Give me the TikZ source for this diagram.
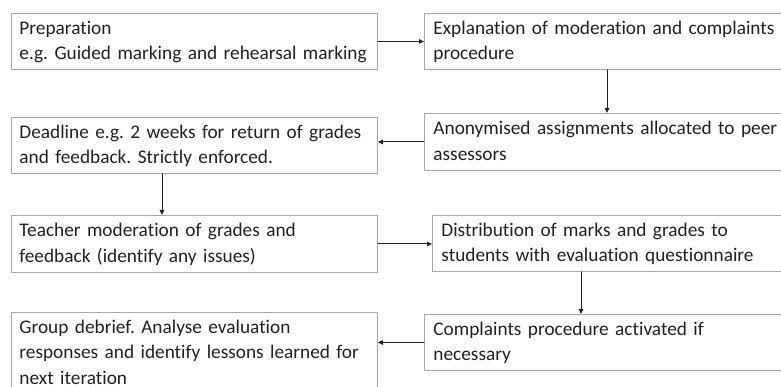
\documentclass[tikz,border=0pt]{standalone}
\usepackage{fontspec}
\setmainfont[Ligatures=NoCommon]{Carlito}
\usepackage{tikz}
\usetikzlibrary{arrows.meta,positioning}
\definecolor{boxgray}{rgb}{0.66,0.66,0.66}
\definecolor{txtgray}{rgb}{0.13,0.13,0.13}
\begin{document}
\frenchspacing
\begin{tikzpicture}[line cap=round,line join=round,x=1pt,y=-1pt,
  stepbox/.style={draw=boxgray,line width=0.9pt,anchor=north west,align=left,
    inner xsep=8pt,inner ysep=3pt,text=txtgray,font=\fontsize{19.3}{25.5}\selectfont,
    execute at begin node={\rule{0pt}{18pt}},
    execute at end node={\rule[-6.5pt]{0pt}{6.5pt}}},
  flow/.style={-{Triangle[length=5pt,width=4.5pt]},line width=0.9pt,color=txtgray}]
\useasboundingbox (0,0) rectangle (781,387);
\clip (0,0) rectangle (781,387);
% left column
\node[stepbox,text width=350pt,minimum height=56pt] (prep) at (11,13) {Preparation\\e.g. Guided marking and rehearsal marking};
\node[stepbox,text width=350pt,minimum height=56pt] (deadline) at (11,117) {Deadline e.g. 2 weeks for return of grades\\and feedback. Strictly enforced.};
\node[stepbox,text width=350pt,minimum height=57pt] (teacher) at (11,215) {Teacher moderation of grades and\\feedback (identify any issues)};
\node[stepbox,text width=350pt] (debrief) at (11,312) {Group debrief. Analyse evaluation\\responses and identify lessons learned for\\next iteration};
% right column
\node[stepbox,text width=356pt,minimum height=56pt,inner xsep=9pt] (explain) at (424,13) {Explanation of moderation and complaints\\procedure};
\node[stepbox,text width=356pt,minimum height=57pt,inner xsep=9pt] (anon) at (424,113) {Anonymised assignments allocated to peer\\assessors};
\node[stepbox,text width=348pt,minimum height=56pt,inner xsep=9pt] (distrib) at (432,215) {Distribution of marks and grades to\\students with evaluation questionnaire};
\node[stepbox,text width=356pt,minimum height=56pt,inner xsep=9pt] (complain) at (424,314) {Complaints procedure activated if\\necessary};
% arrows
\draw[flow] (prep.east) -- (explain.west |- prep.east);
\draw[flow] ([xshift=183pt]explain.south west) -- ([xshift=183pt]explain.south west |- anon.north);
\draw[flow] (anon.west) -- (deadline.east |- anon.west);
\draw[flow] ([xshift=151pt]deadline.south west) -- ([xshift=151pt]deadline.south west |- teacher.north);
\draw[flow] (teacher.east) -- (distrib.west |- teacher.east);
\draw[flow] ([xshift=149pt]distrib.south west) -- ([xshift=149pt]distrib.south west |- complain.north);
\draw[flow] (complain.west) -- (debrief.east |- complain.west);
\end{tikzpicture}
\end{document}
